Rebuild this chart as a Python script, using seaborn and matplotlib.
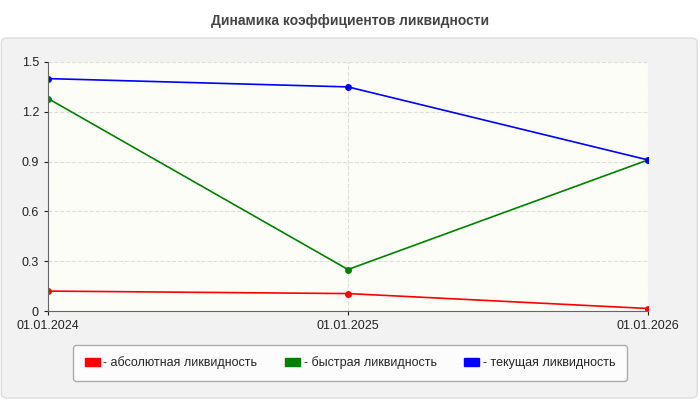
import matplotlib
matplotlib.use("Agg")
import matplotlib.pyplot as plt
import seaborn as sns
import pandas as pd
from matplotlib.patches import FancyBboxPatch

dates = ["01.01.2024", "01.01.2025", "01.01.2026"]
absolute = [0.12, 0.105, 0.015]
quick = [1.28, 0.25, 0.91]
current = [1.40, 1.35, 0.91]
names = ["- абсолютная ликвидность", "- быстрая ликвидность", "- текущая ликвидность"]
colors = ["#ff0000", "#008000", "#0000ff"]

df = pd.DataFrame({"x": list(range(3)) * 3,
                   "v": absolute + quick + current,
                   "s": [names[0]] * 3 + [names[1]] * 3 + [names[2]] * 3})

sns.set_style("white")
plt.rcParams['font.family'] = ['Liberation Sans', 'DejaVu Sans']
fig = plt.figure(figsize=(7, 4), dpi=100)
bg = FancyBboxPatch((0.002, 0.005), 0.994, 0.9, boxstyle="round,pad=0,rounding_size=0.01",
                    transform=fig.transFigure, facecolor="#f2f2f2", edgecolor="#dddddd", zorder=-10)
fig.patches.append(bg)
fig.text(0.5, 0.948, "Динамика коэффициентов ликвидности", ha="center", va="center",
         fontsize=10, fontweight="bold", color="#444444")
ax = fig.add_axes([48/700, 1-311/400, 600/700, 249/400])
ax.set_facecolor("#fdfdf8")
sns.lineplot(data=df, x="x", y="v", hue="s", palette=colors, marker="o", markersize=5,
             markeredgewidth=0, linewidth=1.2, ax=ax, legend=False)
ax.set_xlim(0, 2); ax.set_ylim(0, 1.5)
ax.set_xticks(range(3)); ax.set_xticklabels(dates)
ax.set_yticks([0, 0.3, 0.6, 0.9, 1.2, 1.5]); ax.set_yticklabels(["0", "0.3", "0.6", "0.9", "1.2", "1.5"])
ax.set_xlabel(""); ax.set_ylabel("")
ax.grid(True, color="#dddddd", linestyle="--", linewidth=0.8)
for s in ["top", "right"]:
    ax.spines[s].set_visible(False)
for s in ["left", "bottom"]:
    ax.spines[s].set_color("#666666")
ax.tick_params(axis="both", labelsize=9, colors="#222222", length=3, left=True, bottom=True)
handles = [plt.Rectangle((0, 0), 1, 1, color=c) for c in colors]
leg = fig.legend(handles, names, loc="center", bbox_to_anchor=(350/700, 1-363/400), ncol=3,
                 fontsize=9, frameon=True, handlelength=1.2, handleheight=0.7, handletextpad=0.3,
                 columnspacing=2.2, borderpad=0.9, fancybox=True)
leg.get_frame().set_edgecolor("#999999"); leg.get_frame().set_facecolor("white")
fig.savefig("out.png", dpi=100)
